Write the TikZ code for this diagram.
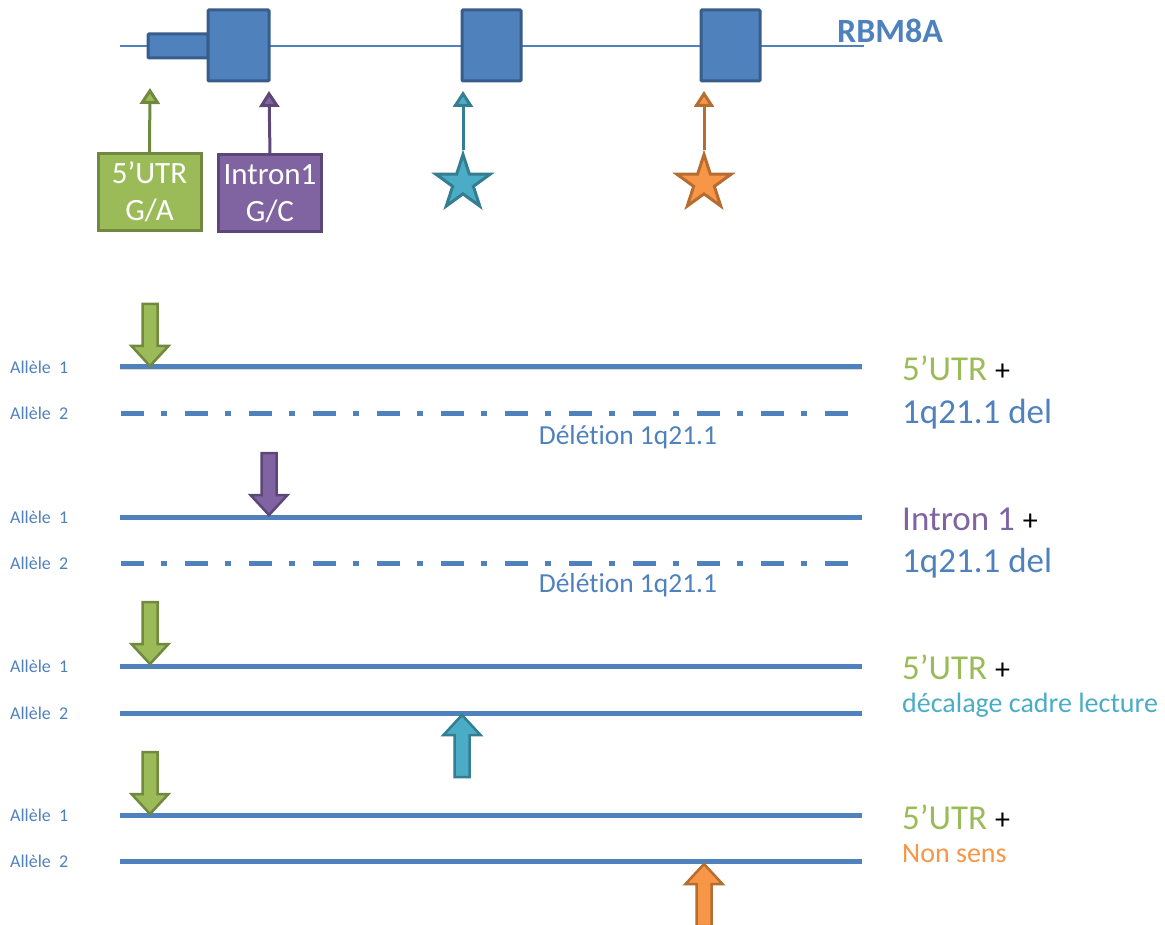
\documentclass[tikz,border=0pt]{standalone}
\usepackage{fontspec}
\setmainfont{Carlito}[Ligatures={NoCommon}]
\usetikzlibrary{arrows.meta,shapes.geometric,positioning}
\definecolor{gene}{HTML}{4F81BD}
\definecolor{genedk}{HTML}{385D8A}
\definecolor{utr}{HTML}{9BBB59}
\definecolor{utrdk}{HTML}{71893F}
\definecolor{intron}{HTML}{8064A2}
\definecolor{introndk}{HTML}{5C4776}
\definecolor{fs}{HTML}{4BACC6}
\definecolor{fsdk}{HTML}{357D91}
\definecolor{ns}{HTML}{F79646}
\definecolor{nsdk}{HTML}{B66D31}
\newcommand{\plussign}{{\fontsize{30}{34}\selectfont\textcolor{black}{+}}}

\tikzset{
  exon/.style={draw=genedk, fill=gene, line width=3pt, rounded corners=1pt},
  varbox/.style 2 args={draw=#2, fill=#1, line width=3pt, text=white, align=center,
    minimum width=103pt, minimum height=77pt, inner sep=0pt,
    font=\fontsize{31}{37}\selectfont},
  pointer/.style 2 args={draw=#2, line width=3pt,
    -{Triangle[width=20pt, length=16pt, fill=#1]}},
  mutstar/.style 2 args={star, star points=5, star point ratio=2.618, minimum size=57pt,
    inner sep=0pt, draw=#2, fill=#1, line width=3pt},
  allele/.style={line width=5pt, draw=gene,
    preaction={draw=black, opacity=0.15, transform canvas={yshift=-2.5pt}}},
  delallele/.style={line width=5pt, draw=gene, dash pattern=on 23pt off 17pt on 6pt off 18pt,
    preaction={draw=black, opacity=0.15, dash pattern=on 23pt off 17pt on 6pt off 18pt,
      transform canvas={yshift=-2.5pt}}},
  fat/.style 2 args={fill=#1, draw=#2, line width=2.5pt, line join=miter},
  allelelbl/.style={anchor=west, inner sep=0pt, text=gene, font=\fontsize{18}{22}\selectfont},
  result/.style={anchor=base west, inner sep=0pt, font=\fontsize{35}{40}\selectfont},
  detail/.style={anchor=base west, inner sep=0pt, font=\fontsize{28}{34}\selectfont},
  dellbl/.style={anchor=base, inner sep=0pt, text=gene, font=\fontsize{27.5}{32}\selectfont}
}

\begin{document}
\begin{tikzpicture}[x=1pt, y=-1pt]
\useasboundingbox (0,0) rectangle (1165,925);

% gene
\draw[gene, line width=1.5pt] (120,46) -- (864,46);
\draw[exon] (148,34) rectangle (208,58);
\draw[exon] (208,10) rectangle (269,81);
\draw[exon] (462,10) rectangle (521,81);
\draw[exon] (701,10) rectangle (760,81);
\node[text=gene, font=\bfseries\fontsize{34}{40}\selectfont] (rbm) at (890,31) {RBM8A};

\node[varbox={utr}{utrdk}] (utrbox) at (149.5,192) {5’UTR\\G/A};
\node[varbox={intron}{introndk}] (intbox) at (270,193.5) {Intron1\\G/C};
\node[mutstar={fs}{fsdk}] (fsstar) at (463,183) {};
\node[mutstar={ns}{nsdk}] (nsstar) at (704,183) {};
\coordinate (utrtip) at (150,88);
\coordinate (inttip) at (269,91);
\coordinate (fstip) at (463,91);
\coordinate (nstip) at (704,91);
\draw[pointer={utr}{utrdk}] (utrbox.north) -- (utrtip);
\draw[pointer={intron}{introndk}] (intbox.north) -- (inttip);
\draw[pointer={fs}{fsdk}] (fsstar.north) -- (fstip);
\draw[pointer={ns}{nsdk}] (nsstar.north) -- (nstip);

% alleles
\foreach \y in {367,517,666,713,815,861}
  \draw[allele] (120,\y) -- (862,\y);
\foreach \y in {413,563}
  \draw[delallele] (121,\y) -- (849,\y);
\foreach \y/\n [count=\i] in {367/1,413/2,517/1,563/2,666/1,713/2,815/1,861/2}
  \node[allelelbl] (al\i) at (10,\y) {Allèle\ \ \n};
\node[dellbl] (del1) at (628,444) {Délétion 1q21.1};
\node[dellbl] (del2) at (628,592) {Délétion 1q21.1};

% variant arrows
\foreach \x/\y/\f/\d in {150/366/utr/utrdk, 269/515/intron/introndk, 150/664/utr/utrdk, 150/814/utr/utrdk}
  \draw[fat={\f}{\d}] (\x,\y) -- ++(-18.5,-20) -- ++(11,0) -- ++(0,-42) -- ++(15,0)
    -- ++(0,42) -- ++(11,0) -- cycle;
\foreach \x/\y/\f/\d in {462/715/fs/fsdk, 704/864/ns/nsdk}
  \draw[fat={\f}{\d}] (\x,\y) -- ++(-18.5,20) -- ++(11,0) -- ++(0,42) -- ++(15,0)
    -- ++(0,-42) -- ++(11,0) -- cycle;

% results
\node[result] (res1) at (902,381) {\textcolor{utr}{5’UTR} \plussign};
\node[result, text=gene] (cnv1) at (902,423) {1q21.1 del};
\node[result] (res2) at (902,530) {\textcolor{intron}{Intron 1} \plussign};
\node[result, text=gene] (cnv2) at (902,572) {1q21.1 del};
\node[result] (res3) at (902,679) {\textcolor{utr}{5’UTR} \plussign};
\node[detail, text=fs] (fs3) at (902,712) {décalage cadre lecture};
\node[result] (res4) at (902,829) {\textcolor{utr}{5’UTR} \plussign};
\node[detail, text=ns] (ns4) at (902,862) {Non sens};
\end{tikzpicture}
\end{document}
